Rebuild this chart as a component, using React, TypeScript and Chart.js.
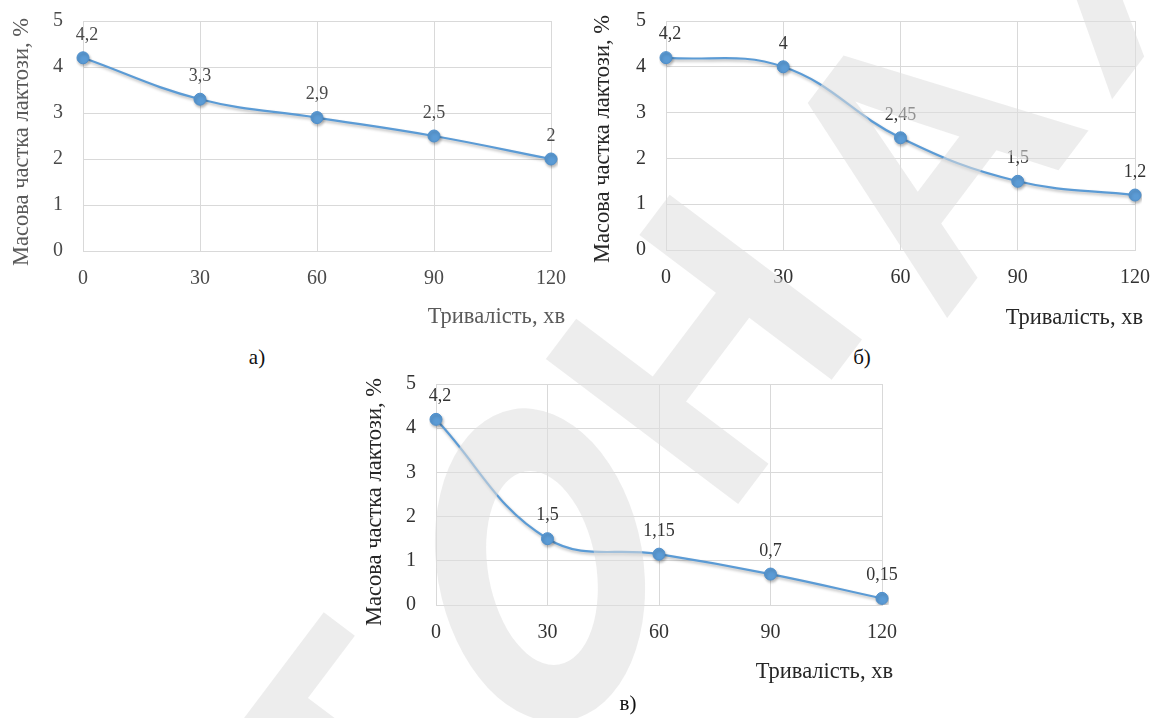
import React, { useEffect, useRef } from "react";
import { Chart, registerables } from "chart.js";
Chart.register(...registerables);

// ---- data ----
const xTickLabels = ["0", "30", "60", "90", "120"];
const seriesA = [4.2, 3.3, 2.9, 2.5, 2.0];
const seriesB = [4.2, 4.0, 2.45, 1.5, 1.2];
const seriesC = [4.2, 1.5, 1.15, 0.7, 0.15];
const labelsA = ["4,2", "3,3", "2,9", "2,5", "2"];
const labelsB = ["4,2", "4", "2,45", "1,5", "1,2"];
const labelsC = ["4,2", "1,5", "1,15", "0,7", "0,15"];
const yMin = 0;
const yMax = 5;
const yStep = 1;
const yTitle = "Масова частка лактози, %";
const xTitle = "Тривалість, хв";
const captions = ["а)", "б)", "в)"];
// watermark letters (the "О" is drawn as a ring)
const watermarkLetters = ["Т", "Н", "А", "Х"];
const watermarkAlong = [-271, 271, 560, 830];
const watermarkAcross = [0, 25, 80, 80];

const LINE = "#5b9bd5";
const GRID = "#d9d9d9";
const FONT = "'Liberation Serif', 'Times New Roman', serif";
const WM = "rgba(222,222,222,0.55)";

type Panel = {
  values: number[];
  labels: string[];
  left: number;
  top: number;
  width: number;
  height: number;
  area: { l: number; r: number; t: number; b: number };
  xT: { right: number; cy: number };
  yT: { cx: number; cy: number };
  titleColor: string;
  tickColor: string;
};

const panels: Panel[] = [
  {
    values: seriesA,
    labels: labelsA,
    left: 0,
    top: 0,
    width: 580,
    height: 340,
    area: { l: 83, r: 551, t: 21, b: 251 },
    xT: { right: 565, cy: 317 },
    yT: { cx: 22, cy: 142 },
    titleColor: "#5a5a5a",
    tickColor: "#4a4a4a",
  },
  {
    values: seriesB,
    labels: labelsB,
    left: 580,
    top: 0,
    width: 578,
    height: 340,
    area: { l: 86, r: 555, t: 21, b: 250 },
    xT: { right: 563, cy: 318 },
    yT: { cx: 23, cy: 139 },
    titleColor: "#262626",
    tickColor: "#333333",
  },
  {
    values: seriesC,
    labels: labelsC,
    left: 340,
    top: 370,
    width: 580,
    height: 330,
    area: { l: 96, r: 542, t: 14, b: 235 },
    xT: { right: 553, cy: 302 },
    yT: { cx: 35, cy: 132 },
    titleColor: "#262626",
    tickColor: "#333333",
  },
];

const captionPos = [
  { x: 257, y: 357 },
  { x: 862, y: 357 },
  { x: 628, y: 703 },
];

function PanelChart({ p }: { p: Panel }) {
  const ref = useRef<HTMLCanvasElement | null>(null);
  useEffect(() => {
    if (!ref.current) return;
    const overlay = {
      id: "overlayTexts",
      beforeDatasetDraw(chart: any) {
        const ctx = chart.ctx;
        ctx.save();
        ctx.shadowColor = "rgba(0,0,0,0.28)";
        ctx.shadowBlur = 3;
        ctx.shadowOffsetX = 1;
        ctx.shadowOffsetY = 2;
      },
      afterDatasetDraw(chart: any) {
        chart.ctx.restore();
      },
      afterDraw(chart: any) {
        const ctx = chart.ctx;
        ctx.save();
        const meta = chart.getDatasetMeta(0);
        ctx.font = `18px ${FONT}`;
        ctx.fillStyle = p.tickColor;
        ctx.textAlign = "center";
        ctx.textBaseline = "middle";
        meta.data.forEach((pt: any, i: number) => {
          ctx.fillText(p.labels[i], pt.x + (i === 0 ? 4 : 0), pt.y - 23);
        });
        ctx.font = `22.5px ${FONT}`;
        ctx.fillStyle = p.titleColor;
        ctx.textAlign = "right";
        ctx.fillText(xTitle, p.xT.right, p.xT.cy);
        ctx.translate(p.yT.cx, p.yT.cy);
        ctx.rotate(-Math.PI / 2);
        ctx.textAlign = "center";
        ctx.fillText(yTitle, 0, 0);
        ctx.restore();
      },
    };
    const chart = new Chart(ref.current, {
      type: "line",
      data: {
        labels: xTickLabels,
        datasets: [
          {
            data: p.values,
            borderColor: LINE,
            borderWidth: 2.2,
            tension: 0.4,
            pointRadius: 6,
            pointBackgroundColor: LINE,
            pointBorderColor: "#4f8fcb",
            pointBorderWidth: 1,
            fill: false,
          },
        ],
      },
      options: {
        animation: false,
        responsive: false,
        maintainAspectRatio: false,
        devicePixelRatio: 1,
        layout: {
          padding: { left: 0, top: p.area.t, right: p.width - p.area.r, bottom: 0 },
        },
        plugins: { legend: { display: false }, tooltip: { enabled: false } },
        scales: {
          x: {
            type: "category",
            offset: false,
            grid: { color: GRID, drawTicks: false },
            border: { color: GRID },
            ticks: {
              font: { family: FONT, size: 20 },
              color: p.tickColor,
              padding: 16,
              maxRotation: 0,
              autoSkip: false,
            },
            afterFit(scale: any) {
              scale.height = p.height - p.area.b;
              scale.paddingLeft = 0;
              scale.paddingRight = 0;
            },
          },
          y: {
            min: yMin,
            max: yMax,
            grid: { color: GRID, drawTicks: false },
            border: { color: GRID },
            ticks: {
              stepSize: yStep,
              font: { family: FONT, size: 20 },
              color: p.tickColor,
              padding: 20,
            },
            afterFit(scale: any) {
              scale.width = p.area.l;
              scale.paddingTop = 0;
              scale.paddingBottom = 0;
            },
          },
        },
      },
      plugins: [overlay],
    } as any);
    return () => chart.destroy();
  }, [p]);
  return (
    <canvas
      ref={ref}
      width={p.width}
      height={p.height}
      style={{ position: "absolute", left: p.left, top: p.top, width: p.width, height: p.height }}
    />
  );
}

function Watermark() {
  const ref = useRef<HTMLCanvasElement | null>(null);
  useEffect(() => {
    const c = ref.current;
    if (!c) return;
    const ctx = c.getContext("2d");
    if (!ctx) return;
    ctx.clearRect(0, 0, c.width, c.height);
    ctx.fillStyle = WM;
    // ring "О"
    const ring = new Path2D();
    ring.ellipse(540, 565, 103, 158, (-10 * Math.PI) / 180, 0, Math.PI * 2);
    ring.ellipse(542, 568, 54, 98, (-10 * Math.PI) / 180, 0, Math.PI * 2);
    ctx.fill(ring, "evenodd");
    // other letters
    ctx.font = "bold 350px 'Liberation Sans', Arial, sans-serif";
    ctx.textAlign = "center";
    ctx.textBaseline = "middle";
    const ang = (-53 * Math.PI) / 180;
    const dir = { x: Math.cos(ang), y: Math.sin(ang) };
    const across = { x: -dir.y, y: dir.x };
    const start = { x: 540, y: 565 };
    watermarkLetters.forEach((ch, i) => {
      const s = watermarkAlong[i];
      const a = watermarkAcross[i];
      ctx.save();
      ctx.translate(start.x + dir.x * s + across.x * a, start.y + dir.y * s + across.y * a);
      ctx.rotate(ang);
      ctx.fillText(ch, 0, 0);
      ctx.restore();
    });
  }, []);
  return (
    <canvas
      ref={ref}
      width={1158}
      height={718}
      style={{ position: "absolute", left: 0, top: 0, width: 1158, height: 718, pointerEvents: "none" }}
    />
  );
}

export default function App() {
  return (
    <div style={{ position: "absolute", left: 0, top: 0, width: 1158, height: 718, background: "#fff", overflow: "hidden" }}>
      {panels.map((p, i) => (
        <PanelChart key={i} p={p} />
      ))}
      {captions.map((c, i) => (
        <div
          key={c}
          style={{
            position: "absolute",
            left: captionPos[i].x,
            top: captionPos[i].y,
            transform: "translate(-50%, -50%)",
            font: `21px ${FONT}`,
            color: "#111",
            lineHeight: 1,
          }}
        >
          {c}
        </div>
      ))}
      <Watermark />
    </div>
  );
}
